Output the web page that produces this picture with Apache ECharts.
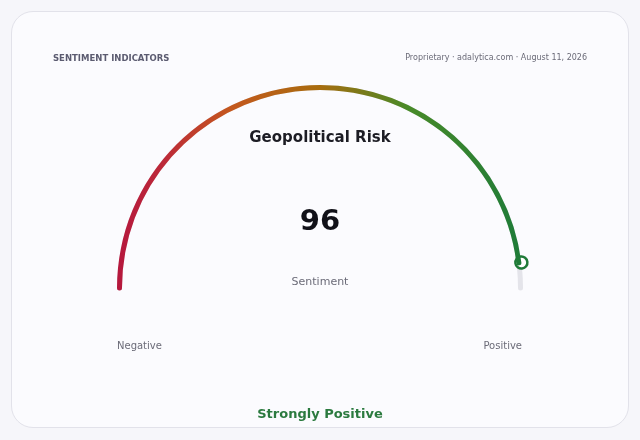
<!DOCTYPE html>
<html>
<head>
<meta charset="utf-8">
<script src="https://cdn.jsdelivr.net/npm/echarts@6/dist/echarts.min.js"></script>
<style>
  html, body { margin: 0; padding: 0; background: #f6f6fa; }
  .card {
    position: absolute; left: 11px; top: 11px; width: 616px; height: 415px;
    border: 1px solid #e2e2ea; border-radius: 22px; background: #fbfbfe;
  }
  #chart { position: absolute; left: 0; top: 0; width: 640px; height: 440px; }
</style>
</head>
<body>
<div class="card"></div>
<div id="chart"></div>
<script>
// gauge data
const gaugeNames = ['Geopolitical Risk'];
const gaugeValues = [96];
const scaleMin = 0;
const scaleMax = 100;
const scaleLabels = ['Negative', 'Positive'];
const verdict = 'Strongly Positive';

const font = 'DejaVu Sans, sans-serif';
const cx = 320, cy = 288, r = 203;

let chart = echarts.init(document.getElementById('chart'));

chart.setOption({
    backgroundColor: 'transparent',
    title: [
        { text: 'SENTIMENT INDICATORS', left: 53, top: 54, padding: 0,
          textStyle: { fontSize: 8.5, fontWeight: 'bold', color: '#5b5b70', fontFamily: font } },
        { text: 'Proprietary · adalytica.com · August 11, 2026', right: 53, top: 54, padding: 0,
          textStyle: { fontSize: 8, fontWeight: 'normal', color: '#6b6b78', fontFamily: font } },
        { text: 'Sentiment', left: 'center', top: 277, padding: 0,
          textStyle: { fontSize: 11, fontWeight: 'normal', color: '#6b6b78', fontFamily: font } },
        { text: scaleLabels[0], left: 117, top: 341, padding: 0,
          textStyle: { fontSize: 10, fontWeight: 'normal', color: '#6b6b78', fontFamily: font } },
        { text: scaleLabels[1], right: 118, top: 341, padding: 0,
          textStyle: { fontSize: 10, fontWeight: 'normal', color: '#6b6b78', fontFamily: font } },
        { text: verdict, left: 'center', top: 408, padding: 0,
          textStyle: { fontSize: 13, fontWeight: 'bold', color: '#2b7a3f', fontFamily: font } }
    ],
    series: [{
        type: 'gauge',
        center: [cx, cy],
        radius: r,
        startAngle: 180,
        endAngle: 0,
        min: scaleMin,
        max: scaleMax,
        axisLine: { roundCap: true, lineStyle: { width: 5, color: [[1, '#e4e4ea']] } },
        progress: {
            show: true, width: 5, roundCap: true,
            itemStyle: {
                color: new echarts.graphic.LinearGradient(0, 0, 1, 0, [
                    { offset: 0, color: '#b5173d' },
                    { offset: 0.12, color: '#bd2a38' },
                    { offset: 0.28, color: '#c4581e' },
                    { offset: 0.5, color: '#a86c0e' },
                    { offset: 0.72, color: '#488a28' },
                    { offset: 1, color: '#1e7b38' }
                ])
            }
        },
        pointer: {
            show: true, icon: 'circle', length: 12, width: 12,
            offsetCenter: [0, -r + 6],
            itemStyle: { color: '#ffffff', borderColor: '#1f7a38', borderWidth: 2.5 }
        },
        anchor: { show: false },
        axisTick: { show: false },
        splitLine: { show: false },
        axisLabel: { show: false },
        title: {
            offsetCenter: [0, -150],
            fontSize: 15, fontWeight: 'bold', color: '#1c1c24', fontFamily: font
        },
        detail: {
            offsetCenter: [0, -66],
            formatter: '{value}',
            fontSize: 29, fontWeight: 'bold', color: '#111118', fontFamily: font
        },
        data: gaugeNames.map((n, i) => ({ name: n, value: gaugeValues[i] }))
    }]
});
</script>
</body>
</html>
